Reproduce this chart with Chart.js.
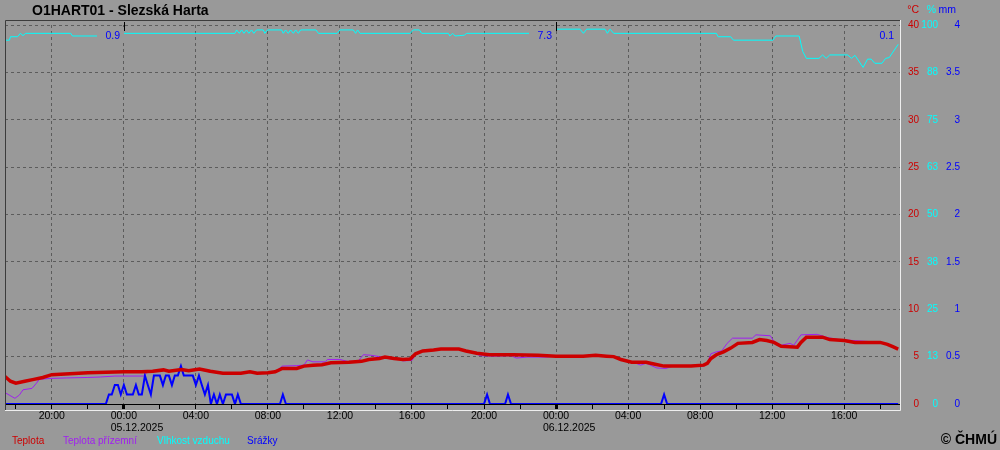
<!DOCTYPE html>
<html>
<head>
<meta charset="utf-8">
<script src="https://cdn.jsdelivr.net/npm/chart.js@4.4.1/dist/chart.umd.min.js"></script>
<style>
  html, body { margin: 0; padding: 0; background: #999999; }
  canvas { display: block; }
</style>
</head>
<body>
<canvas id="chart" width="1000" height="450"></canvas>
<script>
// hours are counted from 00:00 of 05.12.2025
const tempHours = [-6.6,-6.3,-6.0,-5.5,-5.0,-4.5,-4.0,-3.0,-2.0,-1.0,0,1.0,1.6,2.2,2.5,3.2,3.6,4.2,4.8,5.5,6.5,7.0,7.4,8.0,8.4,8.8,9.6,10.0,10.5,11.0,11.5,12.5,13.2,13.6,14.2,14.5,15.0,15.5,15.9,16.2,16.6,17.2,17.6,18.6,19.0,19.6,20.3,21.6,23.0,24.0,25.5,26.2,26.8,27.2,27.6,28.2,29.0,29.5,30.0,31.5,32.2,32.4,32.6,32.9,33.3,33.7,34.1,34.9,35.3,35.7,36.1,36.5,37.4,37.6,37.9,38.8,39.2,40.0,40.6,42.0,42.4,42.7,43.0];
const tempValues = [2.9,2.4,2.2,2.4,2.6,2.8,3.1,3.2,3.3,3.35,3.4,3.4,3.45,3.6,3.45,3.65,3.5,3.7,3.45,3.25,3.25,3.4,3.25,3.3,3.4,3.75,3.75,4.0,4.1,4.15,4.35,4.4,4.5,4.7,4.8,4.95,4.8,4.7,4.75,5.3,5.6,5.7,5.8,5.8,5.6,5.35,5.2,5.2,5.15,5.05,5.05,5.15,5.05,5.0,4.7,4.4,4.4,4.2,4.0,4.0,4.1,4.3,4.8,5.2,5.5,5.9,6.4,6.5,6.8,6.7,6.5,6.1,6.0,6.5,7.05,7.05,6.8,6.7,6.5,6.5,6.3,6.05,5.8];

const groundHours = [-6.6,-6.05,-5.8,-5.6,-5.1,-4.85,-4.7,-4.1,-3.2,-2.0,-1.3,-0.5,1.1,1.3,1.6,2.2,2.5,3.2,3.6,4.2,4.8,5.5,6.5,7.0,7.4,8.0,8.4,8.8,9.6,10.0,10.2,10.5,11.2,11.3,12.0,12.4,13.0,13.3,13.7,14.2,14.8,15.2,15.5,16.0,16.2,16.6,17.2,17.6,18.6,19.0,19.4,19.8,20.5,21.5,21.8,22.4,23.5,24.0,26.8,27.2,27.6,28.3,28.7,29.0,29.6,30.1,30.5,32.2,32.4,32.6,32.9,33.2,33.5,33.8,34.9,35.1,35.9,36.1,36.5,37.0,37.2,37.6,38.5,39.1,39.7,40.5,41.3,42.0,42.4,42.7,43.0];
const groundValues = [1.2,0.6,0.95,1.5,1.65,2.2,2.6,2.7,2.75,2.8,2.85,2.95,2.95,3.35,3.45,3.55,3.45,3.6,3.5,3.65,3.35,3.25,3.25,3.35,3.25,3.3,3.4,4.0,4.05,4.1,4.65,4.45,4.45,4.7,4.7,4.5,4.5,5.2,5.15,5.0,4.75,4.8,4.55,4.6,5.2,5.6,5.7,5.8,5.8,5.55,5.4,5.1,5.05,5.1,4.85,4.95,4.95,5.05,5.05,4.95,4.7,4.4,4.1,4.3,3.8,3.75,4.0,4.0,4.3,5.3,5.5,5.6,6.4,6.95,6.95,7.3,7.2,6.6,6.2,6.4,6.2,7.3,7.35,7.0,6.8,6.7,6.6,6.5,6.3,6.05,5.85];

const humHours = [-6.6,-6.35,-6.3,-5.9,-5.75,-5.6,-5.45,-2.95,-2.85,-0.1,0,6.17,6.26,6.41,6.54,6.67,6.81,6.94,7.09,7.22,7.37,7.74,7.83,7.98,8.76,8.85,8.98,9.13,9.26,9.41,9.54,9.69,9.82,10.67,10.8,11.85,12.0,12.74,12.87,12.98,13.11,15.9,16.07,16.41,16.54,18.02,18.1,18.26,18.39,18.9,19.04,23.9,24.0,25.33,25.52,25.7,26.72,26.85,27.0,27.2,32.9,33.0,33.7,33.85,36.05,36.2,37.5,37.7,37.9,38.6,38.8,39.0,39.2,40.2,40.4,40.6,41.05,41.3,41.5,41.7,42.1,42.3,42.5,43.0];
const humValues = [96.0,96.0,96.9,96.9,97.8,97.2,97.8,97.8,97.1,97.1,97.8,97.8,98.7,97.8,98.7,97.8,98.7,97.8,98.7,97.8,98.7,98.7,97.8,98.7,98.7,97.8,98.7,97.8,98.7,97.8,98.7,97.8,98.7,98.7,97.8,97.8,98.7,98.7,97.8,98.7,97.8,97.8,98.7,98.7,97.8,97.8,97.1,97.8,97.1,97.3,97.8,97.8,98.9,98.9,97.8,98.9,98.9,97.8,98.9,97.8,97.8,96.9,96.9,96.0,96.0,97.1,97.1,93.0,91.2,91.2,92.1,91.2,92.1,92.1,91.2,92.0,88.8,91.0,91.0,89.9,89.9,91.2,91.4,94.9];

const rainHours = [-6.6,-1.0,-0.83,-0.67,-0.5,-0.33,-0.17,0,0.17,0.33,0.5,0.67,0.83,1.0,1.17,1.33,1.5,1.67,1.83,2.0,2.17,2.33,2.5,2.67,2.83,3.0,3.17,3.33,3.5,3.67,3.83,4.0,4.17,4.33,4.5,4.67,4.83,5.0,5.17,5.33,5.5,5.67,5.83,6.0,6.17,6.33,6.5,8.67,8.83,9.0,20.0,20.17,20.33,21.17,21.33,21.5,29.83,30.0,30.17,43.0];
const rainValues = [0,0,0.1,0.1,0.2,0.2,0.1,0.2,0.1,0.1,0.1,0.2,0.1,0.1,0.3,0.2,0.1,0.3,0.3,0.3,0.2,0.3,0.3,0.2,0.3,0.3,0.4,0.3,0.3,0.3,0.3,0.2,0.3,0.2,0.1,0.2,0,0.1,0,0.1,0,0.1,0.1,0.1,0,0.1,0,0,0.1,0,0,0.1,0,0,0.1,0,0,0.1,0,0];

const tempTickLabels = ['0','5','10','15','20','25','30','35','40'];
const humTickLabels = ['0','13','25','38','50','63','75','88','100'];
const rainTickLabels = ['0','0.5','1','1.5','2','2.5','3','3.5','4'];
const timeTickHours = [-4,0,4,8,12,16,20,24,28,32,36,40];
const timeTickLabels = ['20:00','00:00','04:00','08:00','12:00','16:00','20:00','00:00','04:00','08:00','12:00','16:00'];
const dateHours = [0,24];
const dateLabels = ['05.12.2025','06.12.2025'];
const totalHours = [0,24,43];
const totalLabels = ['0.9','7.3','0.1'];
const seriesNames = ['Teplota','Teplota přízemní','Vlhkost vzduchu','Srážky'];
const unitLabels = ['°C','%','mm'];

const FONT = "'Liberation Sans', Arial, sans-serif";
const BG = '#999999';
const RED = '#cc0000', PURPLE = '#a020f0', CYAN = '#00ffff', BLUE = '#0000ff';
const GRID = '#5c5c5c';

Chart.defaults.font.family = FONT;

function pts(xs, ys){ return xs.map((x,i)=>({x:x, y:ys[i]})); }

const ctx = document.getElementById('chart').getContext('2d');

const decor = {
  id: 'decor',
  beforeDraw(chart){
    const c = chart.ctx;
    c.save(); c.fillStyle = BG; c.fillRect(0,0,chart.width,chart.height); c.restore();
  },
  afterDatasetsDraw(chart){
    const c = chart.ctx, xs = chart.scales.x;
    c.save();
    // daily precipitation totals, on a patch of background
    c.font = '10.5px ' + FONT; c.textAlign = 'right'; c.textBaseline = 'middle';
    totalHours.forEach((h,i)=>{
      const px = Math.round(xs.getPixelForValue(h));
      c.fillStyle = BG; c.fillRect(px-27, 27, 27, 16);
      c.fillStyle = BLUE; c.fillText(totalLabels[i], px-4, 36);
    });
    // midnight markers at top
    c.strokeStyle = '#000'; c.lineWidth = 1;
    dateHours.forEach(h=>{
      const px = Math.round(xs.getPixelForValue(h)) + 0.5;
      c.beginPath(); c.moveTo(px, 22); c.lineTo(px, 31); c.stroke();
    });
    c.restore();
  },
  afterDraw(chart){
    const c = chart.ctx, a = chart.chartArea, xs = chart.scales.x;
    c.save();
    // sunken frame
    c.lineWidth = 1;
    c.strokeStyle = '#3c3c3c';
    c.beginPath(); c.moveTo(a.left+0.5, a.bottom+6); c.lineTo(a.left+0.5, a.top-4.5); c.lineTo(a.right, a.top-4.5); c.stroke();
    c.strokeStyle = '#eeeeee';
    c.beginPath(); c.moveTo(a.left, a.bottom+6.5); c.lineTo(a.right+0.5, a.bottom+6.5); c.lineTo(a.right+0.5, a.top-5); c.stroke();
    // title
    c.fillStyle = '#000'; c.font = 'bold 14px ' + FONT; c.textAlign = 'left'; c.textBaseline = 'middle';
    c.fillText('O1HART01 - Slezská Harta', 32, 11);
    // units
    c.font = '10.5px ' + FONT; c.textAlign = 'right';
    const unitRight = [919, 936, 956], unitColors = [RED, CYAN, BLUE];
    unitLabels.forEach((u,i)=>{ c.fillStyle = unitColors[i]; c.fillText(u, unitRight[i], 10); });
    // dates under midnight ticks
    c.font = '10.5px ' + FONT; c.textAlign = 'left'; c.fillStyle = '#000';
    const half = c.measureText('00:00').width / 2;
    dateHours.forEach((h,i)=>{
      const px = xs.getPixelForValue(h);
      c.fillText(dateLabels[i], px - half, 428);
    });
    // legend
    c.font = '10px ' + FONT;
    const legX = [12, 63, 157, 247], legColors = [RED, PURPLE, CYAN, BLUE];
    seriesNames.forEach((n,i)=>{ c.fillStyle = legColors[i]; c.fillText(n, legX[i], 441); });
    // copyright
    c.font = 'bold 14px ' + FONT; c.textAlign = 'right'; c.fillStyle = '#000';
    c.fillText('© ČHMÚ', 997, 440);
    c.restore();
  }
};

function rightAxis(min, max, step, labels, color, weight, width, pad, withGrid){
  return {
    type: 'linear', position: 'right', min: min, max: max, weight: weight,
    ticks: { stepSize: step, color: color, padding: pad, crossAlign: 'far', font: { size: 10 },
             callback: (v, i) => labels[i] },
    grid: withGrid ? { drawTicks: false, lineWidth: 1,
                       color: c => (c.tick && c.tick.value === 0) ? 'rgba(0,0,0,0)' : GRID }
                   : { display: false, drawTicks: false },
    border: { display: false, dash: [3, 3] },
    afterFit: s => { s.width = width; }
  };
}

new Chart(ctx, {
  type: 'line',
  data: {
    datasets: [
      { label: seriesNames[0], data: pts(tempHours, tempValues), borderColor: RED, borderWidth: 3.5, yAxisID: 'yT', order: 0 },
      { label: seriesNames[1], data: pts(groundHours, groundValues), borderColor: PURPLE, borderWidth: 1, yAxisID: 'yT', order: 2 },
      { label: seriesNames[2], data: pts(humHours, humValues), borderColor: CYAN, borderWidth: 1, yAxisID: 'yH', order: 3 },
      { label: seriesNames[3], data: pts(rainHours, rainValues), borderColor: BLUE, borderWidth: 2, yAxisID: 'yP', order: 1 }
    ]
  },
  options: {
    responsive: false, animation: false, events: [],
    layout: { padding: { left: 5, top: 25, right: 40, bottom: 0 } },
    elements: { point: { radius: 0 }, line: { tension: 0, fill: false, borderJoinStyle: 'miter' } },
    plugins: { legend: { display: false }, tooltip: { enabled: false } },
    scales: {
      x: {
        type: 'linear', min: -6.6, max: 43.1,
        ticks: { stepSize: 2, includeBounds: false, autoSkip: false, maxRotation: 0, color: '#000', padding: 1,
                 font: { size: 10.5 },
                 callback: v => { const i = timeTickHours.indexOf(v); return i >= 0 ? timeTickLabels[i] : ''; } },
        grid: { tickLength: 5, lineWidth: 1, tickColor: '#000',
                color: c => (c.tick && c.tick.value % 4 === 0) ? GRID : 'rgba(0,0,0,0)',
                tickWidth: c => (c.tick && c.tick.value % 24 === 0) ? 3 : 1 },
        border: { display: true, color: '#000', width: 1, dash: [3, 3] },
        afterFit: s => { s.height = 46; }
      },
      yT: rightAxis(0, 40, 5, tempTickLabels, RED, 0, 19, 7, true),
      yH: rightAxis(0, 100, 12.5, humTickLabels, CYAN, 1, 19, 1, false),
      yP: rightAxis(0, 4, 0.5, rainTickLabels, BLUE, 2, 22, 4, false)
    }
  },
  plugins: [decor]
});
</script>
</body>
</html>
